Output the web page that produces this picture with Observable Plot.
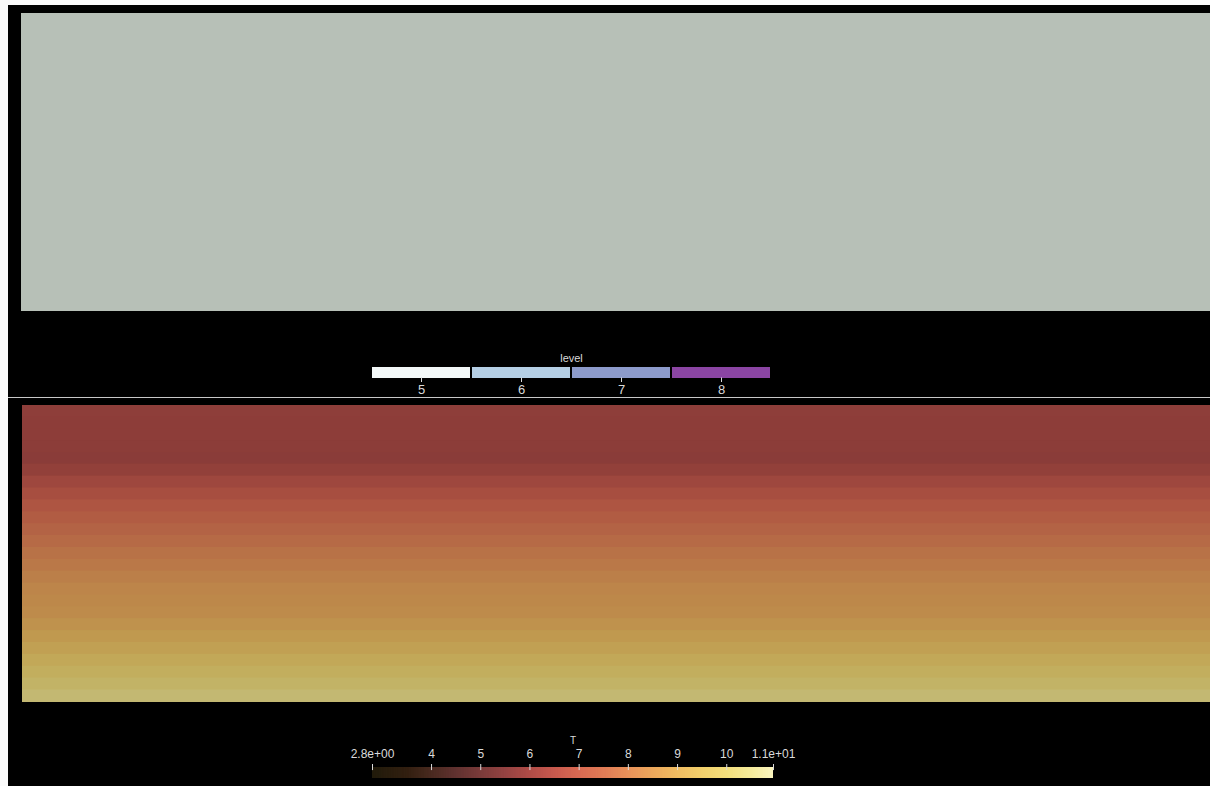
<!DOCTYPE html>
<html>
<head>
<meta charset="utf-8">
<script src="https://cdn.jsdelivr.net/npm/d3@7"></script>
<script src="https://cdn.jsdelivr.net/npm/@observablehq/plot@0.6"></script>
<style>
  body { margin: 0; background: #fff; }
  #view { position: relative; width: 1210px; height: 786px; background: #fafafa; overflow: hidden; }
  #stage { position: absolute; left: 8px; top: 5px; right: 0; bottom: 0; background: #000; }
  .layer { position: absolute; display: block; max-width: none !important; }
  #sep { position: absolute; left: 8px; top: 397px; width: 1202px; height: 1px; background: #c8c8c8; }
</style>
</head>
<body>
<div id="view"><div id="stage"></div><div id="sep"></div></div>
<script>
// Refinement level field (top view) and its categorical legend
const levelValues = [5, 6, 7, 8];
const levelColors = ["#f3f8f8", "#b5cfe5", "#8d9bcb", "#8b45a3"];
const panelLevel = [5];

// Temperature per horizontal row of the lower view, listed top to bottom
const tRows = [6.05, 6.0, 6.0, 5.98, 5.95, 6.15, 6.45, 6.75, 7.0, 7.25, 7.5, 7.7, 7.9,
               8.1, 8.3, 8.45, 8.55, 8.65, 8.85, 9.05, 9.3, 9.55, 9.8, 10.05, 10.3];

// Colormap for T (dark -> red -> orange -> yellow -> cream)
const tStops  = [2.8, 3.5, 4.0, 4.5, 5.0, 5.5, 6.0, 6.5, 7.0, 7.5, 8.0, 8.5, 9.0, 9.5, 10.0, 10.5, 10.95];
const tColors = ["#211b0b", "#321f10", "#4a2a20", "#613230", "#7b3b3a", "#954342", "#b04c47",
                 "#c85a4e", "#d96a52", "#e07c56", "#e8925a", "#eca85c", "#f0bd62", "#f2d06c",
                 "#f3df7c", "#f5eb9c", "#faf5c0"];
const tDomain = [2.8, 10.95];
const tTicks = [2.8, 4, 5, 6, 7, 8, 9, 10, 10.95];
const tTickLabels = ["2.8e+00", "4", "5", "6", "7", "8", "9", "10", "1.1e+01"];

const view = document.getElementById("view");
const font = "'Liberation Sans', Arial, sans-serif";
const ink = "#dadada";

function place(svg, left, top, extra) {
  svg.classList.add("layer");
  svg.style.left = left + "px";
  svg.style.top = top + "px";
  if (extra) svg.style.filter = extra;
  view.appendChild(svg);
}

// surface lighting applied to the rendered field colours
const lit = (c, k = [0.752, 0.775, 0.737]) => {
  const r = d3.rgb(c);
  return d3.rgb(r.r * k[0], r.g * k[1], r.b * k[2]).formatHex();
};

// Top view: level field
place(Plot.plot({
  width: 1190, height: 298, margin: 0,
  style: { background: "transparent" },
  x: { axis: null, domain: [0, 1] },
  y: { axis: null, domain: [0, 1] },
  color: { domain: levelValues, range: levelColors.map(c => lit(c)) },
  marks: [
    Plot.rect(panelLevel, { x1: 0, x2: 1, y1: 0, y2: 1, fill: d => d })
  ]
}), 21, 13);

// Level legend
place(Plot.plot({
  width: 1210, height: 58,
  marginLeft: 371, marginRight: 439, marginTop: 27, marginBottom: 20,
  style: { background: "transparent", color: ink, fontFamily: font },
  x: { axis: null, domain: [4.5, 8.5] },
  y: { axis: null, domain: [0, 1] },
  color: { domain: levelValues, range: levelColors },
  marks: [
    Plot.rect(levelValues, { x1: d => d - 0.5, x2: d => d + 0.5, y1: 0, y2: 1, fill: d => d, insetLeft: 1, insetRight: 1 }),
    Plot.ruleX(levelValues, { x: d => d, y1: 0.05, y2: -4 / 11, stroke: ink, strokeWidth: 1 }),
    Plot.text(levelValues, { x: d => d, y: -6 / 11, text: d => String(d), lineAnchor: "top", fill: ink, fontSize: 13 }),
    Plot.text(["level"], { x: 6.5, y: 1 + 6 / 11, text: d => d, lineAnchor: "bottom", fill: ink, fontSize: 11 })
  ]
}), 0, 340);

// Bottom view: temperature field
place(Plot.plot({
  width: 1188, height: 297, margin: 0,
  style: { background: "transparent" },
  x: { axis: null },
  y: { axis: null, type: "band", padding: 0, round: false, domain: d3.range(tRows.length) },
  color: { type: "linear", domain: tStops, range: tColors, interpolate: "rgb" },
  marks: [
    Plot.cell(tRows, { y: (d, i) => i, fill: d => d, inset: 0, insetTop: -0.6, insetBottom: -0.6 })
  ]
}), 22, 405, "brightness(0.8)");

// Colour bar for T
const nRamp = 240;
const rampStep = (tDomain[1] - tDomain[0]) / nRamp;
const ramp = d3.range(nRamp).map(i => tDomain[0] + i * rampStep);
const tickLabel = new Map(tTicks.map((v, i) => [v, tTickLabels[i]]));
place(Plot.plot({
  width: 1210, height: 61,
  marginLeft: 372, marginRight: 437, marginTop: 42, marginBottom: 8,
  style: { background: "transparent", color: ink, fontFamily: font },
  x: { axis: null, domain: tDomain },
  y: { axis: null, domain: [0, 1] },
  color: { type: "linear", domain: tStops, range: tColors, interpolate: "rgb" },
  marks: [
    Plot.rect(ramp, { x1: d => d, x2: d => Math.min(d + rampStep * 1.6, tDomain[1]), y1: 0, y2: 1, fill: d => d }),
    Plot.ruleX(tTicks, { x: d => d, y1: 0.72, y2: 1 + 3 / 11, stroke: ink, strokeWidth: 1 }),
    Plot.text(tTicks, { x: d => d, y: 1 + 9.5 / 11, text: d => tickLabel.get(d), lineAnchor: "bottom", fill: ink, fontSize: 12 }),
    Plot.text(["T"], { x: (tDomain[0] + tDomain[1]) / 2, y: 1 + 24 / 11, text: d => d, lineAnchor: "bottom", fill: ink, fontSize: 10 })
  ]
}), 0, 725);
</script>
</body>
</html>
